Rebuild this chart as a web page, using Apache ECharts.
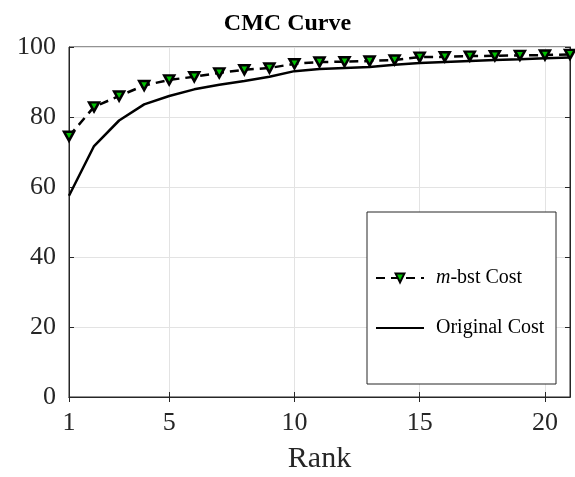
<!DOCTYPE html>
<html>
<head>
<meta charset="utf-8">
<script src="https://cdn.jsdelivr.net/npm/echarts@6/dist/echarts.min.js"></script>
<style>
html,body{margin:0;padding:0;background:#fff;}
#chart{width:575px;height:477px;}
</style>
</head>
<body>
<div id="chart"></div>
<script>
var ranks = [1,2,3,4,5,6,7,8,9,10,11,12,13,14,15,16,17,18,19,20,21];
var mbstCost = [74.5,82.9,86.0,89.0,90.6,91.5,92.6,93.5,94.0,95.2,95.7,95.8,96.0,96.3,97.1,97.2,97.4,97.5,97.6,97.7,97.9];
var originalCost = [57.5,71.7,79.0,83.6,86.0,87.9,89.2,90.3,91.5,93.1,93.7,94.0,94.3,94.9,95.4,95.7,96.0,96.3,96.5,96.8,97.0];
var xTicks = [1,5,10,15,20];
var seriesNames = ['m-bst Cost','Original Cost'];
var titleText = 'CMC Curve';
var xName = 'Rank';

function pairs(xs, ys){ return xs.map(function(x,i){ return [x, ys[i]]; }); }

var axisColor = '#262626';
var serif = '"Liberation Serif", "Times New Roman", serif';

var chart = echarts.init(document.getElementById('chart'), null, {renderer:'canvas'});
chart.setOption({
  animation: false,
  backgroundColor: '#fff',
  title: {
    text: titleText, left: 'center', top: 7,
    textStyle: {fontFamily: serif, fontWeight: 'bold', fontSize: 24, color: '#000'}
  },
  grid: {left: 69, right: 5, top: 47, bottom: 80, outerBoundsMode: 'none', containLabel: false, show: true, borderColor: axisColor, borderWidth: 1, backgroundColor: 'transparent'},
  xAxis: [{
    type: 'value', min: 1, max: 21, position: 'bottom',
    name: xName, nameLocation: 'middle', nameGap: 47,
    nameTextStyle: {fontFamily: serif, fontSize: 30, color: axisColor},
    axisLine: {show: true, lineStyle: {color: axisColor, width: 1}},
    axisTick: {show: true, inside: true, length: 5, customValues: xTicks, lineStyle: {color: axisColor}},
    axisLabel: {customValues: xTicks, fontFamily: serif, fontSize: 26, color: axisColor, margin: 13},
    splitLine: {show: true, lineStyle: {color: '#e3e3e3', width: 1}}
  },{
    type: 'value', min: 1, max: 21, position: 'top',
    axisLine: {show: true, lineStyle: {color: axisColor, width: 1}},
    axisTick: {show: true, inside: true, length: 5, customValues: xTicks, lineStyle: {color: axisColor}},
    axisLabel: {show: false, customValues: xTicks},
    splitLine: {show: false}
  }],
  yAxis: [{
    type: 'value', min: 0, max: 100, interval: 20, position: 'left',
    axisLine: {show: true, lineStyle: {color: axisColor, width: 1}},
    axisTick: {show: true, inside: true, length: 5, lineStyle: {color: axisColor}},
    axisLabel: {fontFamily: serif, fontSize: 26, color: axisColor, margin: 13},
    splitLine: {show: true, lineStyle: {color: '#e3e3e3', width: 1}}
  },{
    type: 'value', min: 0, max: 100, interval: 20, position: 'right',
    axisLine: {show: true, lineStyle: {color: axisColor, width: 1}},
    axisTick: {show: true, inside: true, length: 5, lineStyle: {color: axisColor}},
    axisLabel: {show: false},
    splitLine: {show: false}
  }],
  graphic: [{
    type: 'rect', z: 3,
    shape: {x: 367, y: 212, width: 189, height: 172},
    style: {fill: '#fff', stroke: axisColor, lineWidth: 1}
  }],
  legend: {
    z: 10,
    orient: 'vertical', left: 375, top: 268, padding: 0,
    itemWidth: 48, itemHeight: 11, itemGap: 30,
    data: [
      {name: seriesNames[0]},
      {name: seriesNames[1], itemStyle: {color: 'rgba(0,0,0,0)', borderColor: 'rgba(0,0,0,0)', borderWidth: 0}}
    ],
    formatter: function(name){
      if (name === seriesNames[0]) return '{sp| }{i|m}{b|-bst Cost}';
      return '{sp| }{b|' + name + '}';
    },
    textStyle: {
      fontFamily: serif, fontSize: 20, color: '#000',
      rich: {
        sp: {width: 7, fontSize: 20},
        i: {fontFamily: serif, fontStyle: 'italic', fontSize: 20, color: '#000'},
        b: {fontFamily: serif, fontSize: 20, color: '#000'}
      }
    }
  },
  series: [{
    name: seriesNames[0], type: 'line', z: 2,
    xAxisIndex: 0, yAxisIndex: 0,
    data: pairs(ranks, mbstCost),
    symbol: 'triangle', symbolRotate: 180, symbolSize: [10, 9],
    showAllSymbol: true,
    lineStyle: {color: '#000', width: 2.5, type: [9, 6]},
    itemStyle: {color: '#00c000', borderColor: '#000', borderWidth: 2.5}
  },{
    name: seriesNames[1], type: 'line', z: 2,
    xAxisIndex: 0, yAxisIndex: 0,
    data: pairs(ranks, originalCost),
    symbol: 'none', showSymbol: false,
    lineStyle: {color: '#000', width: 2.5},
    itemStyle: {color: '#000'}
  }]
});
</script>
</body>
</html>
